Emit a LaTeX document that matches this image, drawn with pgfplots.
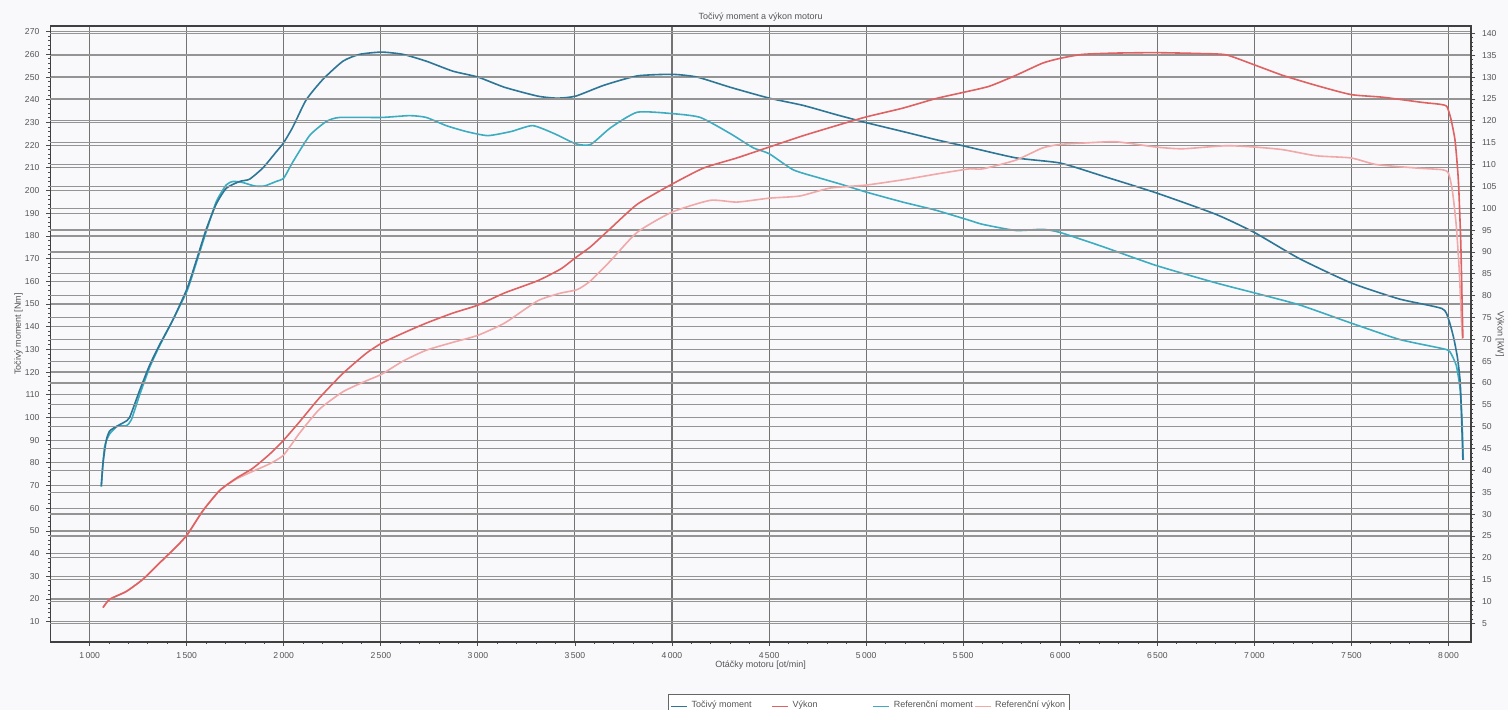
\documentclass[border=0pt]{standalone}
\usepackage{fontspec}
\setmainfont{Liberation Sans}
\usepackage{pgfplots}
\pgfplotsset{compat=1.18}
\definecolor{bgc}{RGB}{249,249,252}
\definecolor{tq}{RGB}{45,118,150}
\definecolor{rtq}{RGB}{62,172,192}
\definecolor{pw}{RGB}{222,98,98}
\definecolor{rpw}{RGB}{240,168,168}
\definecolor{txt}{RGB}{85,85,85}

\pgfplotstableread{
rpm val
1060 69.6
1069 80
1086 90
1103 94
1137 96
1180 98
1206 100
1258 112
1309 123
1360 132
1429 143
1503 157
1549 169
1601 183
1652 194
1704 201
1773 204
1824 205
1893 210
1961 217
1999 221
2047 228
2116 240
2202 249
2305 257
2391 260
2504 261
2614 260
2734 257
2871 252.6
3000 250
3137 245.5
3308 241.6
3410 240.7
3504 241.6
3650 246.4
3821 250.5
4000 251.2
4129 250
4300 245.5
4501 240.7
4676 237.5
4847 233.4
5001 229.9
5189 226
5360 222.4
5500 219.7
5771 214.4
6000 212.1
6218 206.4
6493 199
6802 189.5
7000 181.5
7232 170
7498 159.3
7747 152.2
7966 148
8000 143.3
8026 135.3
8046 126.4
8060 115.8
8068 98.1
8074 81.3
}\torque

\pgfplotstableread{
rpm val
1060 69.6
1077 87
1103 92.7
1146 96.3
1189 96.3
1215 99
1258 110
1309 122
1360 131.5
1429 143
1503 156
1549 168
1601 182
1652 195
1704 202.5
1740 204
1790 203.5
1850 202
1900 202
1961 204
2000 205.5
2047 212.6
2133 224.2
2219 230.4
2288 232.2
2504 232.2
2648 233
2734 232.2
2837 228.6
2940 226
3051 224.2
3171 226
3282 228.6
3393 225.1
3504 220.6
3581 220.3
3684 227.7
3821 234.5
4000 233.9
4146 232.2
4300 225.1
4419 218.8
4501 216.2
4625 209.1
4761 205.5
4881 202.5
5001 199.3
5189 194.9
5360 191.3
5531 186.9
5600 185.1
5771 182.4
5909 182.9
6000 181.5
6218 175.3
6493 167
6802 159.3
7000 154.9
7232 149.6
7498 141.6
7747 134.4
7966 130.4
8006 129.1
8040 122.9
8060 112.3
8070 98.1
8076 81.3
}\reftorque

\pgfplotstableread{
rpm val
1069 8.6
1103 10.5
1189 12.3
1275 15.1
1360 18.8
1446 22.5
1503 25.3
1584 30.8
1670 35.4
1755 38.2
1841 40.5
1927 43.7
1999 46.9
2081 51.1
2184 56.6
2305 62.2
2425 66.8
2504 69.1
2614 71.4
2734 73.7
2871 76
2999 77.8
3137 80.6
3308 83.4
3427 86.1
3504 88.7
3581 91.2
3684 95.4
3821 100.9
4000 105.5
4163 109.2
4334 111.5
4501 114
4676 116.6
4847 118.9
5001 120.9
5189 122.9
5360 125.1
5500 126.5
5634 127.9
5771 130.4
5909 133.2
6000 134.3
6115 135.2
6287 135.5
6493 135.6
6716 135.4
6854 135.1
7000 132.8
7146 130.4
7318 128.1
7498 126
7661 125.4
7867 124.2
7953 123.8
7991 123.3
8012 120.5
8034 115.4
8051 106.2
8063 92.4
8070 78.6
8074 70.3
}\power

\pgfplotstableread{
rpm val
1069 8.6
1103 10.5
1189 12.3
1275 15.1
1360 18.8
1446 22.5
1503 25.3
1584 30.8
1670 35.4
1755 38
1841 39.8
1927 41.5
1999 43.5
2081 48.5
2184 54
2305 58
2425 60.5
2504 62
2614 65
2734 67.5
2871 69.3
2999 70.9
3137 73.7
3308 78.8
3420 80.5
3513 81.4
3581 83.4
3684 88
3821 94.5
4000 99.1
4197 101.8
4334 101.4
4501 102.3
4659 102.8
4813 104.6
5001 105.3
5189 106.5
5360 107.8
5531 109
5600 109
5771 111
5909 113.8
6000 114.6
6115 114.9
6287 115.2
6493 114
6630 113.6
6854 114.3
7000 114
7146 113.4
7318 112
7498 111.5
7627 110
7833 109.2
7970 108.8
8000 108
8020 104
8040 96
8055 86
8066 75
8072 70
}\refpower

\pgfplotsset{
  common/.style={
    width=710.3pt, height=307.85pt, scale only axis,
    at={(0pt,0pt)}, anchor=south west,
    xmin=798, xmax=8116,
    tick align=outside,
    major tick length=2pt, minor tick length=1pt,
    every tick/.style={black!70, line width=0.4pt},
    /pgf/number format/assume math mode=true,
    tick label style={font=\fontsize{4.3}{5}\selectfont, text=txt},
    label style={font=\fontsize{4.5}{5.5}\selectfont, text=txt},
    axis line style={black!75, line width=0.9pt},
    y grid style={black!42, line width=0.6pt},
    x grid style={black!55, line width=0.55pt},
  }
}

\begin{document}
\begin{tikzpicture}
\path[use as bounding box, fill=bgc] (-25.2pt,-34.15pt) rectangle (728.8pt,320.85pt);
\begin{axis}[common,
  ymin=1.2, ymax=272.5,
  xtick={1000,1500,...,8000},
  ytick={10,20,...,270},
  minor x tick num=4, minor y tick num=4,
  xtick pos=bottom, ytick pos=left,
  xmajorgrids, ymajorgrids,
  xticklabel style={/pgf/number format/1000 sep={\,}, yshift=0.3pt},
  title={Točivý moment a výkon motoru},
  title style={font=\fontsize{4.5}{5.5}\selectfont, text=txt, anchor=center, yshift=-1.5pt},
  xlabel={Otáčky motoru [ot/min]},
  xlabel style={at={(axis description cs:0.5,0)}, anchor=center, yshift=-11.6pt},
  ylabel={Točivý moment [Nm]},
  ylabel style={at={(axis description cs:-0.0225,0.5)}, anchor=center},
]
\addplot[rtq, line width=0.8pt, smooth, tension=0.35] table[x=rpm,y=val] {\reftorque};
\addplot[tq, line width=0.8pt, smooth, tension=0.35] table[x=rpm,y=val] {\torque};
\end{axis}
\begin{axis}[common,
  axis x line=none,
  axis y line*=right,
  ymin=0.8, ymax=141.7,
  ytick={5,10,...,140},
  minor y tick num=4,
  ymajorgrids,
  ylabel={Výkon [kW]},
  ylabel style={at={(axis description cs:1.0204,0.5)}, anchor=center, rotate=180},
  legend columns=4,
  legend style={at={(axis description cs:0.4347,-0.0849)}, anchor=north west,
    draw=black!60, line width=0.4pt, fill=white, font=\fontsize{4.5}{5}\selectfont, text=txt,
    inner xsep=1pt, inner ysep=1.5pt,
    /tikz/every even column/.append style={column sep=0pt}},
  legend image code/.code={\draw[#1, line width=0.6pt] (0pt,0pt) -- (8pt,0pt);},
]
\addlegendimage{tq}
\addlegendentry{\makebox[38pt][l]{Točivý moment}}
\addlegendimage{pw}
\addlegendentry{\makebox[38pt][l]{Výkon}}
\addlegendimage{rtq}
\addlegendentry{\makebox[38pt][l]{Referenční moment}}
\addlegendimage{rpw}
\addlegendentry{\makebox[34pt][l]{Referenční výkon}}
\addplot[rpw, line width=0.8pt, smooth, tension=0.35, forget plot] table[x=rpm,y=val] {\refpower};
\addplot[pw, line width=0.8pt, smooth, tension=0.35, forget plot] table[x=rpm,y=val] {\power};
\end{axis}
\end{tikzpicture}
\end{document}
